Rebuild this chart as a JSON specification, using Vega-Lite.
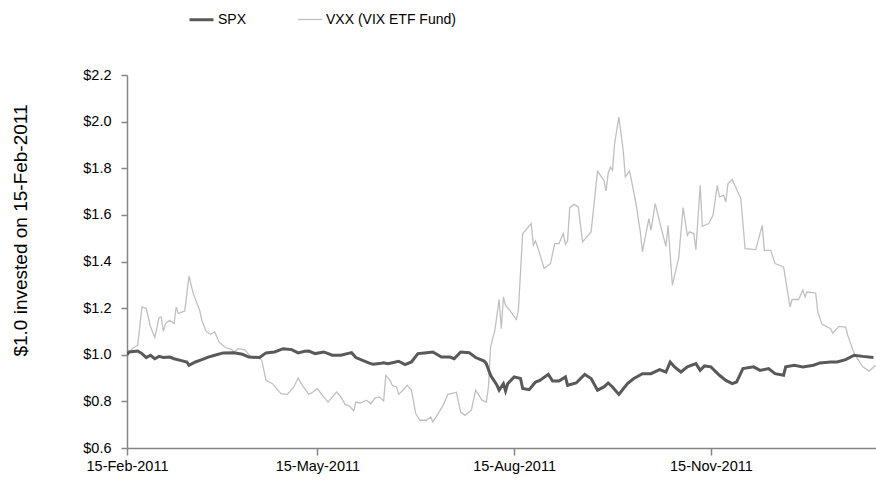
{
  "$schema": "https://vega.github.io/schema/vega-lite/v6.json",
  "width": 749,
  "height": 373,
  "autosize": {"type": "none"},
  "padding": {"left": 127, "top": 75, "right": 0, "bottom": 36},
  "background": "white",
  "config": {"view": {"stroke": null}, "font": "Liberation Sans"},
  "datasets": {
    "vxx": [
      {"date": "2011-02-15", "value": 1.0}, {"date": "2011-02-18", "value": 1.03}, {"date": "2011-02-20", "value": 1.04},
      {"date": "2011-02-22", "value": 1.205}, {"date": "2011-02-24", "value": 1.198}, {"date": "2011-02-26", "value": 1.12},
      {"date": "2011-02-28", "value": 1.074}, {"date": "2011-03-02", "value": 1.16}, {"date": "2011-03-03", "value": 1.162},
      {"date": "2011-03-04", "value": 1.1}, {"date": "2011-03-05", "value": 1.134}, {"date": "2011-03-07", "value": 1.148},
      {"date": "2011-03-09", "value": 1.134}, {"date": "2011-03-10", "value": 1.205}, {"date": "2011-03-11", "value": 1.177},
      {"date": "2011-03-14", "value": 1.188}, {"date": "2011-03-16", "value": 1.337}, {"date": "2011-03-18", "value": 1.262},
      {"date": "2011-03-21", "value": 1.19}, {"date": "2011-03-22", "value": 1.148}, {"date": "2011-03-24", "value": 1.1},
      {"date": "2011-03-26", "value": 1.088}, {"date": "2011-03-28", "value": 1.098}, {"date": "2011-03-30", "value": 1.055},
      {"date": "2011-04-02", "value": 1.031}, {"date": "2011-04-05", "value": 1.022}, {"date": "2011-04-06", "value": 1.012},
      {"date": "2011-04-08", "value": 1.026}, {"date": "2011-04-11", "value": 1.022}, {"date": "2011-04-14", "value": 0.99},
      {"date": "2011-04-17", "value": 0.99}, {"date": "2011-04-19", "value": 0.976}, {"date": "2011-04-21", "value": 0.89},
      {"date": "2011-04-24", "value": 0.876}, {"date": "2011-04-28", "value": 0.833}, {"date": "2011-05-01", "value": 0.83},
      {"date": "2011-05-04", "value": 0.862}, {"date": "2011-05-06", "value": 0.9}, {"date": "2011-05-08", "value": 0.869},
      {"date": "2011-05-11", "value": 0.83}, {"date": "2011-05-13", "value": 0.84}, {"date": "2011-05-15", "value": 0.855},
      {"date": "2011-05-17", "value": 0.83}, {"date": "2011-05-20", "value": 0.797}, {"date": "2011-05-22", "value": 0.819},
      {"date": "2011-05-24", "value": 0.84}, {"date": "2011-05-26", "value": 0.819}, {"date": "2011-05-28", "value": 0.787},
      {"date": "2011-05-30", "value": 0.78}, {"date": "2011-06-01", "value": 0.759}, {"date": "2011-06-02", "value": 0.797},
      {"date": "2011-06-04", "value": 0.793}, {"date": "2011-06-07", "value": 0.805}, {"date": "2011-06-09", "value": 0.79},
      {"date": "2011-06-11", "value": 0.815}, {"date": "2011-06-13", "value": 0.819}, {"date": "2011-06-15", "value": 0.802},
      {"date": "2011-06-16", "value": 0.912}, {"date": "2011-06-18", "value": 0.89}, {"date": "2011-06-19", "value": 0.869},
      {"date": "2011-06-21", "value": 0.862}, {"date": "2011-06-22", "value": 0.83}, {"date": "2011-06-24", "value": 0.848},
      {"date": "2011-06-26", "value": 0.869}, {"date": "2011-06-28", "value": 0.848}, {"date": "2011-06-30", "value": 0.748},
      {"date": "2011-07-02", "value": 0.719}, {"date": "2011-07-05", "value": 0.719}, {"date": "2011-07-07", "value": 0.733},
      {"date": "2011-07-08", "value": 0.712}, {"date": "2011-07-10", "value": 0.74}, {"date": "2011-07-13", "value": 0.787},
      {"date": "2011-07-15", "value": 0.83}, {"date": "2011-07-18", "value": 0.836}, {"date": "2011-07-19", "value": 0.84},
      {"date": "2011-07-21", "value": 0.754}, {"date": "2011-07-23", "value": 0.74}, {"date": "2011-07-26", "value": 0.762},
      {"date": "2011-07-28", "value": 0.848}, {"date": "2011-07-31", "value": 0.805}, {"date": "2011-08-02", "value": 0.797},
      {"date": "2011-08-03", "value": 0.862}, {"date": "2011-08-04", "value": 1.033}, {"date": "2011-08-06", "value": 1.105},
      {"date": "2011-08-08", "value": 1.237}, {"date": "2011-08-09", "value": 1.112}, {"date": "2011-08-10", "value": 1.248},
      {"date": "2011-08-11", "value": 1.212}, {"date": "2011-08-13", "value": 1.19}, {"date": "2011-08-16", "value": 1.151},
      {"date": "2011-08-17", "value": 1.19}, {"date": "2011-08-19", "value": 1.52}, {"date": "2011-08-23", "value": 1.563},
      {"date": "2011-08-24", "value": 1.47}, {"date": "2011-08-25", "value": 1.488}, {"date": "2011-08-26", "value": 1.462},
      {"date": "2011-08-27", "value": 1.434}, {"date": "2011-08-29", "value": 1.37}, {"date": "2011-09-01", "value": 1.391},
      {"date": "2011-09-03", "value": 1.477}, {"date": "2011-09-05", "value": 1.477}, {"date": "2011-09-07", "value": 1.52},
      {"date": "2011-09-08", "value": 1.474}, {"date": "2011-09-09", "value": 1.488}, {"date": "2011-09-10", "value": 1.631},
      {"date": "2011-09-12", "value": 1.645}, {"date": "2011-09-14", "value": 1.634}, {"date": "2011-09-16", "value": 1.484},
      {"date": "2011-09-20", "value": 1.527}, {"date": "2011-09-23", "value": 1.788}, {"date": "2011-09-26", "value": 1.748},
      {"date": "2011-09-27", "value": 1.703}, {"date": "2011-09-28", "value": 1.78}, {"date": "2011-09-29", "value": 1.805},
      {"date": "2011-09-30", "value": 1.791}, {"date": "2011-10-01", "value": 1.906}, {"date": "2011-10-03", "value": 2.02},
      {"date": "2011-10-05", "value": 1.877}, {"date": "2011-10-06", "value": 1.763}, {"date": "2011-10-08", "value": 1.788},
      {"date": "2011-10-11", "value": 1.648}, {"date": "2011-10-13", "value": 1.527}, {"date": "2011-10-14", "value": 1.441},
      {"date": "2011-10-17", "value": 1.584}, {"date": "2011-10-18", "value": 1.534}, {"date": "2011-10-20", "value": 1.648},
      {"date": "2011-10-23", "value": 1.534}, {"date": "2011-10-25", "value": 1.465}, {"date": "2011-10-26", "value": 1.555},
      {"date": "2011-10-28", "value": 1.298}, {"date": "2011-10-31", "value": 1.419}, {"date": "2011-11-02", "value": 1.631},
      {"date": "2011-11-04", "value": 1.512}, {"date": "2011-11-05", "value": 1.527}, {"date": "2011-11-07", "value": 1.52},
      {"date": "2011-11-08", "value": 1.451}, {"date": "2011-11-10", "value": 1.727}, {"date": "2011-11-11", "value": 1.551},
      {"date": "2011-11-14", "value": 1.563}, {"date": "2011-11-16", "value": 1.598}, {"date": "2011-11-18", "value": 1.727},
      {"date": "2011-11-19", "value": 1.677}, {"date": "2011-11-21", "value": 1.684}, {"date": "2011-11-22", "value": 1.655},
      {"date": "2011-11-23", "value": 1.734}, {"date": "2011-11-25", "value": 1.751}, {"date": "2011-11-29", "value": 1.67},
      {"date": "2011-12-01", "value": 1.455}, {"date": "2011-12-06", "value": 1.451}, {"date": "2011-12-09", "value": 1.555},
      {"date": "2011-12-10", "value": 1.448}, {"date": "2011-12-13", "value": 1.448}, {"date": "2011-12-15", "value": 1.391},
      {"date": "2011-12-19", "value": 1.377}, {"date": "2011-12-22", "value": 1.205}, {"date": "2011-12-23", "value": 1.237},
      {"date": "2011-12-26", "value": 1.237}, {"date": "2011-12-28", "value": 1.277}, {"date": "2011-12-29", "value": 1.248},
      {"date": "2011-12-30", "value": 1.269}, {"date": "2012-01-03", "value": 1.265}, {"date": "2012-01-04", "value": 1.183},
      {"date": "2012-01-06", "value": 1.131}, {"date": "2012-01-10", "value": 1.112}, {"date": "2012-01-11", "value": 1.093},
      {"date": "2012-01-13", "value": 1.112}, {"date": "2012-01-14", "value": 1.122}, {"date": "2012-01-17", "value": 1.119},
      {"date": "2012-01-18", "value": 1.083}, {"date": "2012-01-21", "value": 1.005}, {"date": "2012-01-25", "value": 0.948},
      {"date": "2012-01-28", "value": 0.93}, {"date": "2012-01-31", "value": 0.955}
    ],
    "spx": [
      {"date": "2011-02-15", "value": 1.0}, {"date": "2011-02-16", "value": 1.012}, {"date": "2011-02-20", "value": 1.016},
      {"date": "2011-02-22", "value": 1.005}, {"date": "2011-02-24", "value": 0.988}, {"date": "2011-02-26", "value": 0.998},
      {"date": "2011-02-28", "value": 0.983}, {"date": "2011-03-02", "value": 0.993}, {"date": "2011-03-04", "value": 0.988},
      {"date": "2011-03-07", "value": 0.99}, {"date": "2011-03-09", "value": 0.983}, {"date": "2011-03-12", "value": 0.976},
      {"date": "2011-03-15", "value": 0.969}, {"date": "2011-03-16", "value": 0.955}, {"date": "2011-03-19", "value": 0.969},
      {"date": "2011-03-22", "value": 0.979}, {"date": "2011-03-25", "value": 0.99}, {"date": "2011-03-28", "value": 0.998},
      {"date": "2011-04-01", "value": 1.008}, {"date": "2011-04-06", "value": 1.009}, {"date": "2011-04-10", "value": 1.002},
      {"date": "2011-04-13", "value": 0.99}, {"date": "2011-04-18", "value": 0.988}, {"date": "2011-04-21", "value": 1.008},
      {"date": "2011-04-25", "value": 1.012}, {"date": "2011-04-29", "value": 1.026}, {"date": "2011-05-03", "value": 1.022},
      {"date": "2011-05-06", "value": 1.008}, {"date": "2011-05-09", "value": 1.015}, {"date": "2011-05-11", "value": 1.016},
      {"date": "2011-05-14", "value": 1.005}, {"date": "2011-05-18", "value": 1.012}, {"date": "2011-05-22", "value": 0.998},
      {"date": "2011-05-26", "value": 0.998}, {"date": "2011-05-31", "value": 1.009}, {"date": "2011-06-02", "value": 0.988},
      {"date": "2011-06-06", "value": 0.973}, {"date": "2011-06-08", "value": 0.965}, {"date": "2011-06-10", "value": 0.959},
      {"date": "2011-06-13", "value": 0.962}, {"date": "2011-06-15", "value": 0.966}, {"date": "2011-06-17", "value": 0.962},
      {"date": "2011-06-22", "value": 0.972}, {"date": "2011-06-25", "value": 0.958}, {"date": "2011-06-28", "value": 0.969},
      {"date": "2011-07-01", "value": 1.005}, {"date": "2011-07-04", "value": 1.008}, {"date": "2011-07-08", "value": 1.012},
      {"date": "2011-07-10", "value": 1.001}, {"date": "2011-07-12", "value": 0.99}, {"date": "2011-07-16", "value": 0.99},
      {"date": "2011-07-18", "value": 0.983}, {"date": "2011-07-21", "value": 1.012}, {"date": "2011-07-25", "value": 1.009},
      {"date": "2011-07-28", "value": 0.988}, {"date": "2011-08-01", "value": 0.973}, {"date": "2011-08-02", "value": 0.962},
      {"date": "2011-08-04", "value": 0.912}, {"date": "2011-08-07", "value": 0.869}, {"date": "2011-08-08", "value": 0.848},
      {"date": "2011-08-10", "value": 0.876}, {"date": "2011-08-11", "value": 0.845}, {"date": "2011-08-12", "value": 0.876},
      {"date": "2011-08-15", "value": 0.905}, {"date": "2011-08-18", "value": 0.898}, {"date": "2011-08-19", "value": 0.855},
      {"date": "2011-08-22", "value": 0.85}, {"date": "2011-08-25", "value": 0.883}, {"date": "2011-08-27", "value": 0.89},
      {"date": "2011-08-31", "value": 0.916}, {"date": "2011-09-02", "value": 0.887}, {"date": "2011-09-05", "value": 0.887},
      {"date": "2011-09-08", "value": 0.905}, {"date": "2011-09-09", "value": 0.869}, {"date": "2011-09-13", "value": 0.879},
      {"date": "2011-09-17", "value": 0.916}, {"date": "2011-09-20", "value": 0.898}, {"date": "2011-09-23", "value": 0.848},
      {"date": "2011-09-26", "value": 0.862}, {"date": "2011-09-28", "value": 0.879}, {"date": "2011-09-30", "value": 0.862},
      {"date": "2011-10-03", "value": 0.83}, {"date": "2011-10-07", "value": 0.876}, {"date": "2011-10-10", "value": 0.898},
      {"date": "2011-10-14", "value": 0.919}, {"date": "2011-10-18", "value": 0.919}, {"date": "2011-10-22", "value": 0.936},
      {"date": "2011-10-25", "value": 0.926}, {"date": "2011-10-27", "value": 0.969}, {"date": "2011-10-29", "value": 0.948},
      {"date": "2011-11-01", "value": 0.926}, {"date": "2011-11-04", "value": 0.948}, {"date": "2011-11-08", "value": 0.962},
      {"date": "2011-11-10", "value": 0.933}, {"date": "2011-11-12", "value": 0.952}, {"date": "2011-11-15", "value": 0.948},
      {"date": "2011-11-19", "value": 0.912}, {"date": "2011-11-22", "value": 0.89}, {"date": "2011-11-25", "value": 0.876},
      {"date": "2011-11-27", "value": 0.883}, {"date": "2011-11-30", "value": 0.941}, {"date": "2011-12-05", "value": 0.948},
      {"date": "2011-12-08", "value": 0.933}, {"date": "2011-12-12", "value": 0.941}, {"date": "2011-12-15", "value": 0.919},
      {"date": "2011-12-19", "value": 0.912}, {"date": "2011-12-20", "value": 0.948}, {"date": "2011-12-24", "value": 0.955},
      {"date": "2011-12-28", "value": 0.948}, {"date": "2012-01-02", "value": 0.955}, {"date": "2012-01-05", "value": 0.965},
      {"date": "2012-01-10", "value": 0.969}, {"date": "2012-01-13", "value": 0.969}, {"date": "2012-01-17", "value": 0.979},
      {"date": "2012-01-21", "value": 0.998}, {"date": "2012-01-25", "value": 0.993}, {"date": "2012-01-30", "value": 0.988}
    ]
  },
  "encoding": {
    "x": {
      "field": "date", "type": "temporal",
      "scale": {"type": "utc", "domain": [{"year": 2011, "month": 2, "date": 15, "utc": true}, {"year": 2012, "month": 1, "date": 31, "hours": 5, "utc": true}]},
      "axis": {
        "title": null, "grid": false,
        "labelExpr": "utcFormat(datum.value, '%d-%b-%Y')",
        "values": [{"year": 2011, "month": 2, "date": 15, "utc": true}, {"year": 2011, "month": 5, "date": 15, "utc": true}, {"year": 2011, "month": 8, "date": 15, "utc": true}, {"year": 2011, "month": 11, "date": 15, "utc": true}],
        "domainColor": "#868686", "tickColor": "#868686", "tickSize": 7, "domainWidth": 1.5, "tickWidth": 1.5,
        "labelFont": "Liberation Sans", "labelFontSize": 14.5, "labelColor": "#000000", "labelPadding": 4, "labelOverlap": false, "labelFlush": false
      }
    },
    "y": {
      "field": "value", "type": "quantitative",
      "scale": {"domain": [0.6, 2.2], "nice": false, "zero": false},
      "axis": {
        "title": "$1.0 invested on 15-Feb-2011", "grid": false, "format": "$.1f",
        "values": [0.6, 0.8, 1.0, 1.2, 1.4, 1.6, 1.8, 2.0, 2.2],
        "domainColor": "#868686", "tickColor": "#868686", "tickSize": 6, "domainWidth": 1.5, "tickWidth": 1.5,
        "labelFont": "Liberation Sans", "labelFontSize": 14.5, "labelColor": "#000000", "labelPadding": 10,
        "titleFont": "Liberation Sans", "titleFontSize": 19, "titleFontWeight": "normal", "titleColor": "#000000",
        "titleX": -107, "titleY": 155, "titleAngle": -90, "titleAlign": "center", "titleBaseline": "middle"
      }
    },
    "color": {
      "field": "series", "type": "nominal",
      "scale": {"domain": ["SPX", "VXX (VIX ETF Fund)"], "range": ["#595959", "#c0c0c0"]},
      "legend": {
        "title": null, "orient": "none", "legendX": 61, "legendY": -69, "direction": "horizontal",
        "symbolType": "stroke", "symbolSize": 576, "labelFont": "Liberation Sans", "labelFontSize": 14,
        "labelColor": "#000000", "columnPadding": 48, "labelOffset": 3
      }
    },
    "strokeWidth": {
      "field": "series", "type": "nominal",
      "scale": {"domain": ["SPX", "VXX (VIX ETF Fund)"], "range": [3, 1.3]},
      "legend": {
        "title": null, "orient": "none", "legendX": 61, "legendY": -69, "direction": "horizontal",
        "symbolType": "stroke", "symbolSize": 576, "labelFont": "Liberation Sans", "labelFontSize": 14,
        "labelColor": "#000000", "columnPadding": 48, "labelOffset": 3
      }
    }
  },
  "layer": [
    {
      "data": {"name": "vxx"},
      "transform": [{"calculate": "'VXX (VIX ETF Fund)'", "as": "series"}],
      "mark": {"type": "line", "clip": true}
    },
    {
      "data": {"name": "spx"},
      "transform": [{"calculate": "'SPX'", "as": "series"}],
      "mark": {"type": "line", "clip": true}
    }
  ]
}
